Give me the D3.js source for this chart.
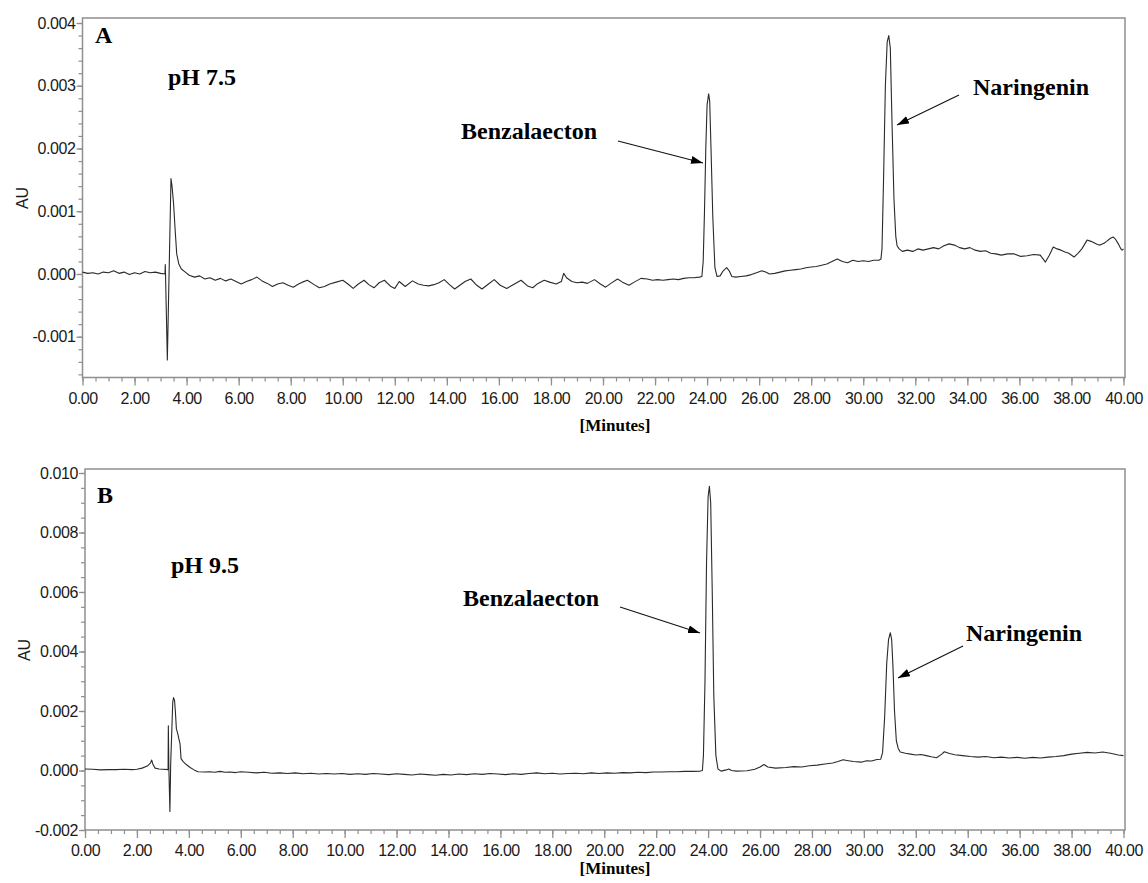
<!DOCTYPE html>
<html><head><meta charset="utf-8">
<script src="https://cdn.jsdelivr.net/npm/d3@7"></script>
<style>body{margin:0;background:#fff}</style>
</head><body>
<svg id="chart" width="1148" height="883"></svg>
<script>
// ---------- DATA ----------
// time axis tick labels (minutes)
const xMajorTicks = [0,2,4,6,8,10,12,14,16,18,20,22,24,26,28,30,32,34,36,38,40];
const yTicksA = [-0.001,0,0.001,0.002,0.003,0.004];
const yTicksB = [-0.002,0,0.002,0.004,0.006,0.008,0.010];
const panelLetters = ["A","B"];
const phLabels = ["pH 7.5","pH 9.5"];
const peakNames = ["Benzalaecton","Naringenin"];

// Trace A (pH 7.5): [minutes, absorbance in mAU]
const traceA = [
[0.0,0.03],[0.2,0.01],[0.4,0.02],[0.6,0.00],[0.8,0.03],[1.0,0.02],[1.2,0.05],[1.4,0.01],[1.6,0.03],[1.8,-0.01],
[2.0,0.02],[2.2,0.00],[2.4,0.04],[2.6,0.02],[2.8,0.03],[3.0,0.01],[3.17,0.00],[3.18,0.15],[3.19,0.00],[3.26,-1.37],
[3.40,1.52],[3.44,1.40],[3.50,1.12],[3.56,0.70],[3.62,0.32],[3.70,0.16],[3.80,0.08],[3.95,0.03],[4.1,-0.02],[4.3,-0.05],
[4.5,-0.03],[4.7,-0.08],[4.9,-0.06],[5.1,-0.10],[5.3,-0.07],[5.5,-0.11],[5.7,-0.08],[5.9,-0.12],[6.1,-0.16],[6.3,-0.12],
[6.5,-0.09],[6.7,-0.05],[6.9,-0.11],[7.1,-0.15],[7.3,-0.20],[7.5,-0.16],[7.7,-0.14],[7.9,-0.18],[8.1,-0.21],[8.3,-0.16],
[8.45,-0.13],[8.64,-0.10],[8.9,-0.17],[9.1,-0.22],[9.3,-0.20],[9.5,-0.16],[9.75,-0.13],[10.0,-0.10],[10.2,-0.16],[10.4,-0.23],
[10.6,-0.16],[10.82,-0.10],[11.0,-0.17],[11.2,-0.22],[11.4,-0.14],[11.6,-0.10],[11.85,-0.20],[12.0,-0.23],[12.17,-0.12],[12.4,-0.20],
[12.68,-0.11],[12.9,-0.16],[13.1,-0.18],[13.3,-0.19],[13.5,-0.17],[13.7,-0.14],[13.9,-0.09],[14.1,-0.17],[14.3,-0.24],[14.5,-0.18],
[14.7,-0.12],[14.92,-0.08],[15.15,-0.18],[15.35,-0.24],[15.6,-0.16],[15.82,-0.09],[16.05,-0.18],[16.3,-0.23],[16.6,-0.16],[16.85,-0.10],
[17.1,-0.19],[17.3,-0.22],[17.5,-0.15],[17.74,-0.10],[17.95,-0.13],[18.2,-0.16],[18.4,-0.12],[18.49,0.01],[18.6,-0.06],[18.8,-0.12],
[19.0,-0.14],[19.2,-0.13],[19.4,-0.15],[19.67,-0.09],[19.9,-0.16],[20.1,-0.21],[20.3,-0.15],[20.56,-0.08],[20.75,-0.13],[21.0,-0.18],
[21.2,-0.13],[21.46,-0.07],[21.7,-0.08],[21.9,-0.10],[22.1,-0.09],[22.3,-0.10],[22.5,-0.09],[22.7,-0.08],[22.9,-0.09],[23.1,-0.07],
[23.3,-0.06],[23.5,-0.06],[23.7,-0.05],[23.8,-0.04],[23.85,0.20],[23.9,1.00],[23.95,2.00],[24.0,2.70],[24.06,2.87],[24.1,2.75],
[24.15,2.00],[24.22,0.90],[24.3,0.10],[24.38,-0.04],[24.5,-0.03],[24.6,0.04],[24.75,0.10],[24.85,0.05],[24.95,-0.04],[25.1,-0.05],
[25.3,-0.04],[25.5,-0.03],[25.7,-0.01],[25.9,0.02],[26.1,0.05],[26.25,0.03],[26.4,0.00],[26.6,0.01],[26.8,0.03],[27.0,0.05],
[27.2,0.06],[27.4,0.07],[27.6,0.08],[27.8,0.10],[28.0,0.11],[28.2,0.12],[28.4,0.14],[28.6,0.16],[28.8,0.20],[29.0,0.24],
[29.2,0.20],[29.4,0.18],[29.6,0.22],[29.8,0.20],[30.0,0.21],[30.2,0.20],[30.4,0.22],[30.6,0.22],[30.68,0.24],[30.72,0.40],
[30.78,1.50],[30.85,3.00],[30.92,3.70],[30.98,3.80],[31.04,3.60],[31.1,2.50],[31.18,1.20],[31.25,0.60],[31.3,0.45],[31.38,0.40],
[31.5,0.36],[31.7,0.38],[31.9,0.36],[32.1,0.40],[32.3,0.38],[32.5,0.40],[32.7,0.42],[32.9,0.40],[33.1,0.45],[33.3,0.48],
[33.5,0.46],[33.7,0.42],[33.9,0.40],[34.1,0.42],[34.3,0.38],[34.5,0.36],[34.7,0.37],[34.9,0.33],[35.1,0.32],[35.3,0.30],
[35.55,0.32],[35.8,0.32],[36.05,0.28],[36.3,0.29],[36.55,0.31],[36.8,0.30],[37.0,0.19],[37.15,0.30],[37.3,0.43],[37.45,0.40],
[37.6,0.38],[37.75,0.35],[37.9,0.33],[38.1,0.27],[38.25,0.33],[38.4,0.40],[38.6,0.54],[38.75,0.52],[38.85,0.50],[39.0,0.47],
[39.1,0.46],[39.25,0.49],[39.35,0.52],[39.5,0.57],[39.6,0.59],[39.7,0.55],[39.8,0.48],[39.9,0.40],[39.95,0.38],[40.0,0.40]
];

// Trace B (pH 9.5): [minutes, absorbance in mAU]
const traceB = [
[0.0,0.05],[0.3,0.04],[0.6,0.02],[0.9,0.03],[1.2,0.03],[1.5,0.04],[1.8,0.03],[2.0,0.04],[2.2,0.08],[2.4,0.15],
[2.52,0.25],[2.57,0.35],[2.62,0.20],[2.7,0.08],[2.85,0.05],[3.0,0.04],[3.20,0.03],[3.21,1.50],[3.23,0.10],[3.27,-1.38],
[3.30,0.20],[3.38,2.30],[3.41,2.45],[3.45,2.35],[3.48,2.00],[3.52,1.40],[3.57,1.25],[3.62,1.05],[3.66,0.90],[3.70,0.40],
[3.78,0.30],[3.9,0.20],[4.05,0.10],[4.2,0.02],[4.35,-0.04],[4.6,-0.05],[4.8,-0.04],[5.0,-0.06],[5.2,-0.03],[5.4,-0.06],
[5.6,-0.05],[5.8,-0.07],[6.0,-0.04],[6.3,-0.06],[6.6,-0.08],[6.9,-0.06],[7.2,-0.09],[7.5,-0.08],[7.8,-0.10],[8.1,-0.08],
[8.4,-0.11],[8.7,-0.09],[9.0,-0.12],[9.3,-0.10],[9.6,-0.12],[9.9,-0.10],[10.2,-0.13],[10.5,-0.11],[10.8,-0.13],[11.1,-0.10],
[11.4,-0.12],[11.7,-0.14],[12.0,-0.11],[12.3,-0.13],[12.6,-0.15],[12.9,-0.12],[13.2,-0.14],[13.5,-0.16],[13.8,-0.13],[14.1,-0.15],
[14.4,-0.12],[14.7,-0.14],[15.0,-0.11],[15.3,-0.13],[15.6,-0.10],[15.9,-0.12],[16.2,-0.14],[16.5,-0.11],[16.8,-0.13],[17.1,-0.10],
[17.4,-0.08],[17.7,-0.11],[18.0,-0.09],[18.3,-0.12],[18.6,-0.10],[18.9,-0.09],[19.2,-0.11],[19.5,-0.08],[19.8,-0.10],[20.1,-0.08],
[20.4,-0.09],[20.7,-0.07],[21.0,-0.08],[21.3,-0.06],[21.6,-0.07],[21.9,-0.05],[22.2,-0.05],[22.5,-0.04],[22.8,-0.04],[23.1,-0.03],
[23.4,-0.03],[23.7,-0.02],[23.78,0.00],[23.82,0.50],[23.88,3.00],[23.94,7.00],[24.0,9.20],[24.05,9.55],[24.1,9.00],[24.16,6.00],
[24.22,2.50],[24.3,0.50],[24.38,0.05],[24.5,-0.02],[24.7,0.02],[24.8,0.05],[24.9,0.00],[25.1,-0.02],[25.5,-0.01],[25.8,0.04],
[26.0,0.12],[26.15,0.20],[26.3,0.12],[26.6,0.08],[27.0,0.10],[27.3,0.13],[27.6,0.12],[27.9,0.16],[28.2,0.18],[28.5,0.22],
[28.8,0.25],[29.0,0.30],[29.2,0.36],[29.4,0.33],[29.6,0.30],[29.9,0.28],[30.1,0.33],[30.3,0.32],[30.5,0.37],[30.65,0.38],
[30.72,0.60],[30.8,1.80],[30.88,3.60],[30.95,4.40],[31.02,4.63],[31.07,4.40],[31.12,3.50],[31.18,2.00],[31.25,1.00],[31.32,0.75],
[31.4,0.62],[31.6,0.58],[31.8,0.55],[32.0,0.52],[32.2,0.54],[32.4,0.50],[32.6,0.46],[32.8,0.43],[33.0,0.55],[33.1,0.63],
[33.3,0.57],[33.5,0.53],[33.8,0.50],[34.1,0.47],[34.4,0.45],[34.7,0.47],[35.0,0.43],[35.3,0.45],[35.6,0.42],[35.9,0.44],
[36.2,0.41],[36.5,0.44],[36.8,0.42],[37.1,0.45],[37.4,0.47],[37.7,0.50],[38.0,0.55],[38.3,0.58],[38.6,0.61],[38.9,0.59],
[39.2,0.62],[39.5,0.58],[39.8,0.52],[40.0,0.50]
];

// ---------- DRAWING ----------
const svg = d3.select("#chart");
const AXIS = "#8f8f8f";
svg.append("defs").append("marker")
  .attr("id","ah").attr("markerUnits","userSpaceOnUse")
  .attr("viewBox","0 0 12 8").attr("refX",12).attr("refY",4)
  .attr("markerWidth",12).attr("markerHeight",8).attr("orient","auto")
  .append("path").attr("d","M0,0 L12,4 L0,8 Z").attr("fill","#000");

const panels = [
  {trace: traceA, yTicks: yTicksA, yMinorStep: 0.0002, yDom: [-0.00165, 0.00408],
   L: 82.5, R: 1125, T: 18, B: 377.5, xEnd: 1123.5,
   letter: [95, 43], ph: [168, 85], au: [28, 198], minutes: [615, 431],
   benz: {txt: [461, 139], a: [[618,141],[703,163]]},
   nar:  {txt: [973, 95],  a: [[959,95],[897,125]]}},
  {trace: traceB, yTicks: yTicksB, yMinorStep: 0.0005, yDom: [-0.002, 0.010134],
   L: 85, R: 1125, T: 469, B: 830, xEnd: 1123.5,
   letter: [97, 503], ph: [171, 573], au: [30, 650], minutes: [615, 874],
   benz: {txt: [463, 606], a: [[620,607],[700,633]]},
   nar:  {txt: [966, 641], a: [[963,646],[898,678]]}}
];

panels.forEach((p, i) => {
  const x = d3.scaleLinear().domain([0, 40]).range([p.L, p.xEnd]);
  const y = d3.scaleLinear().domain(p.yDom).range([p.B, p.T]);
  const g = svg.append("g");

  // minor ticks
  const xMinor = d3.range(0, 40.001, 0.5);
  g.append("g").attr("transform",`translate(0,${p.B})`)
    .call(d3.axisBottom(x).tickValues(xMinor).tickSize(4).tickFormat(""))
    .call(s => { s.select(".domain").remove(); s.selectAll("line").attr("stroke",AXIS).attr("stroke-width",1.2); });
  const yMinor = d3.range(p.yTicks[0], p.yDom[1] + 1e-9, p.yMinorStep).filter(v => v >= p.yDom[0] - 1e-9);
  const yMinorAll = d3.range(Math.ceil(p.yDom[0]/p.yMinorStep), Math.floor(p.yDom[1]/p.yMinorStep)+1).map(k => k*p.yMinorStep);
  g.append("g").attr("transform",`translate(${p.L},0)`)
    .call(d3.axisLeft(y).tickValues(yMinorAll).tickSize(4).tickFormat(""))
    .call(s => { s.select(".domain").remove(); s.selectAll("line").attr("stroke",AXIS).attr("stroke-width",1.2); });

  // major ticks
  g.append("g").attr("transform",`translate(0,${p.B})`)
    .call(d3.axisBottom(x).tickValues(xMajorTicks).tickSize(8).tickPadding(7).tickFormat(d => d.toFixed(2)))
    .call(s => {
      s.select(".domain").remove();
      s.selectAll("line").attr("stroke",AXIS).attr("stroke-width",1.3);
      s.selectAll("text").attr("fill","#1a1a1a").style("font-family","'Liberation Sans', Arial, sans-serif")
        .style("font-size","16px").style("letter-spacing","-0.5px");
    });
  g.append("g").attr("transform",`translate(${p.L},0)`)
    .call(d3.axisLeft(y).tickValues(p.yTicks).tickSize(6).tickPadding(1).tickFormat(d => (Math.abs(d)<1e-12?0:d).toFixed(3)))
    .call(s => {
      s.select(".domain").remove();
      s.selectAll("line").attr("stroke",AXIS).attr("stroke-width",1.3);
      s.selectAll("text").attr("fill","#1a1a1a").style("font-family","'Liberation Sans', Arial, sans-serif")
        .style("font-size","16px").style("letter-spacing","-0.4px");
    });

  // frame
  g.append("rect").attr("x",p.L).attr("y",p.T).attr("width",p.R-p.L).attr("height",p.B-p.T)
    .attr("fill","none").attr("stroke",AXIS).attr("stroke-width",1.5);

  // trace
  const line = d3.line().x(d => x(d[0])).y(d => y(d[1]/1000));
  g.append("path").datum(p.trace).attr("d", line)
    .attr("fill","none").attr("stroke","#2a2a2a").attr("stroke-width",1.1).attr("stroke-linejoin","round");

  // texts
  const serif = "'Liberation Serif', 'Times New Roman', serif";
  g.append("text").attr("x",p.letter[0]).attr("y",p.letter[1]).text(panelLetters[i])
    .style("font-family",serif).style("font-weight","bold").style("font-size","24px");
  g.append("text").attr("x",p.ph[0]).attr("y",p.ph[1]).text(phLabels[i])
    .style("font-family",serif).style("font-weight","bold").style("font-size","24px");
  g.append("text").attr("x",p.benz.txt[0]).attr("y",p.benz.txt[1]).text(peakNames[0])
    .style("font-family",serif).style("font-weight","bold").style("font-size","24px");
  g.append("text").attr("x",p.nar.txt[0]).attr("y",p.nar.txt[1]).text(peakNames[1])
    .style("font-family",serif).style("font-weight","bold").style("font-size","24px");
  [p.benz.a, p.nar.a].forEach(a => {
    g.append("line").attr("x1",a[0][0]).attr("y1",a[0][1]).attr("x2",a[1][0]).attr("y2",a[1][1])
      .attr("stroke","#111").attr("stroke-width",1.1).attr("marker-end","url(#ah)");
  });
  g.append("text").attr("transform",`translate(${p.au[0]},${p.au[1]}) rotate(-90)`)
    .attr("text-anchor","middle").text("AU")
    .style("font-family","'Liberation Sans', Arial, sans-serif").style("font-size","16px").attr("fill","#1a1a1a");
  g.append("text").attr("x",p.minutes[0]).attr("y",p.minutes[1]).attr("text-anchor","middle").text("[Minutes]")
    .style("font-family",serif).style("font-weight","bold").style("font-size","17px");
});
</script>
</body></html>
